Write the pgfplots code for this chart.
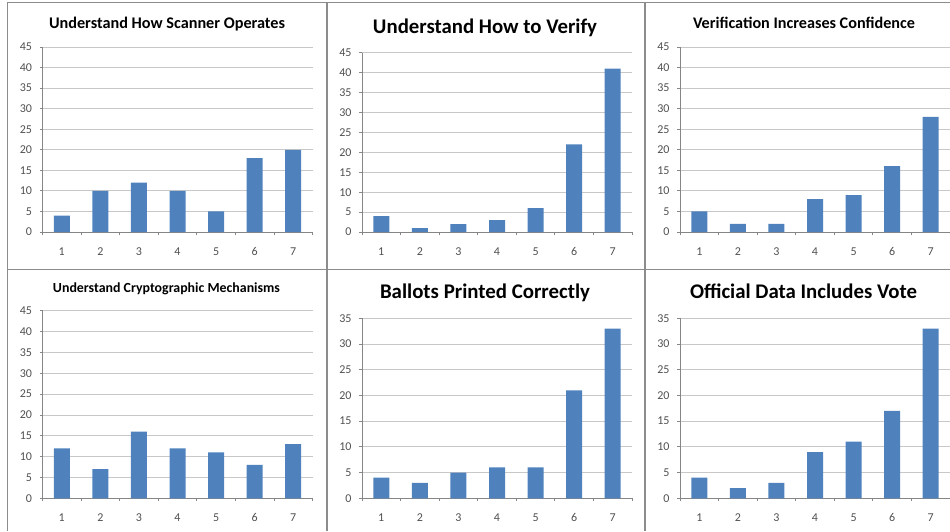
\documentclass[border=0pt]{standalone}
\usepackage{pgfplots}
\pgfplotsset{compat=1.18}
\usepackage{graphicx}
\usepackage{fontspec}
\setmainfont{Carlito}
\definecolor{barblue}{RGB}{79,129,189}
\definecolor{gridgray}{RGB}{200,200,200}
\definecolor{axisgray}{RGB}{134,134,134}
\definecolor{framegray}{RGB}{140,140,140}
\definecolor{ticktext}{RGB}{80,80,80}
\pgfplotsset{
  panel/.style={
    scale only axis, width=270pt, anchor=south west,
    xmin=0.5, xmax=7.5, ymin=0,
    axis lines*=left, axis line style={-, draw=axisgray, line width=0.8pt},
    xtick={1,...,7}, minor xtick={0.5,1.5,...,7.5},
    ytick distance=5,
    tick align=outside, major tick length=3pt, minor tick length=3pt,
    tick style={axisgray, line width=0.8pt},
    major x tick style={draw=none},
    ymajorgrids, grid style={gridgray, line width=0.8pt},
    tick label style={font=\fontsize{12}{14}\selectfont, text=ticktext},
    /pgf/number format/assume math mode=true,
    xticklabel style={yshift=-9pt},
    yticklabel style={xshift=-4pt},
    ybar, bar width=16pt,
    clip=false,
  },
  bars/.style={fill=barblue, draw=none},
}
\begin{document}
\begin{tikzpicture}
\path[use as bounding box] (0,0) rectangle (950pt,531pt);
% frames
\draw[framegray, line width=1pt] (7pt,0) -- (7pt,528.5pt) -- (950pt,528.5pt);
\draw[framegray, line width=1pt] (7pt,262pt) -- (950pt,262pt);
\draw[framegray, line width=2pt] (327pt,0) -- (327pt,528.5pt);
\draw[framegray, line width=2pt] (644.5pt,0) -- (644.5pt,528.5pt);

% Panel 1
\begin{axis}[panel, at={(42.5pt,299pt)}, height=185pt, ymax=45]
\addplot[bars] coordinates {(1,4) (2,10) (3,12) (4,10) (5,5) (6,18) (7,20)};
\end{axis}
% Panel 2
\begin{axis}[panel, at={(362pt,299pt)}, height=179.3pt, ymax=45]
\addplot[bars] coordinates {(1,4) (2,1) (3,2) (4,3) (5,6) (6,22) (7,41)};
\end{axis}
% Panel 3
\begin{axis}[panel, at={(680pt,299pt)}, height=185pt, ymax=45]
\addplot[bars] coordinates {(1,5) (2,2) (3,2) (4,8) (5,9) (6,16) (7,28)};
\end{axis}
% Panel 4
\begin{axis}[panel, at={(42.5pt,32.7pt)}, height=187.6pt, ymax=45]
\addplot[bars] coordinates {(1,12) (2,7) (3,16) (4,12) (5,11) (6,8) (7,13)};
\end{axis}
% Panel 5
\begin{axis}[panel, at={(362pt,32.7pt)}, height=180pt, ymax=35]
\addplot[bars] coordinates {(1,4) (2,3) (3,5) (4,6) (5,6) (6,21) (7,33)};
\end{axis}
% Panel 6
\begin{axis}[panel, at={(680pt,32.7pt)}, height=180pt, ymax=35]
\addplot[bars] coordinates {(1,4) (2,2) (3,3) (4,9) (5,11) (6,17) (7,33)};
\end{axis}

% titles
\node[anchor=base, inner sep=0pt] at (167pt,502.7pt) {\resizebox{236pt}{!}{\bfseries Understand How Scanner Operates}};
\node[anchor=base, inner sep=0pt] at (485pt,497.7pt) {\resizebox{224pt}{!}{\bfseries Understand How to Verify}};
\node[anchor=base, inner sep=0pt] at (804pt,502pt) {\resizebox{222pt}{!}{\bfseries Verification Increases Confidence}};
\node[anchor=base, inner sep=0pt] at (166.5pt,238.7pt) {\resizebox{227pt}{!}{\bfseries Understand Cryptographic Mechanisms}};
\node[anchor=base, inner sep=0pt] at (485pt,232.7pt) {\resizebox{210pt}{!}{\bfseries Ballots Printed Correctly}};
\node[anchor=base, inner sep=0pt] at (803.5pt,232.7pt) {\resizebox{227pt}{!}{\bfseries Official Data Includes Vote}};
\end{tikzpicture}
\end{document}
